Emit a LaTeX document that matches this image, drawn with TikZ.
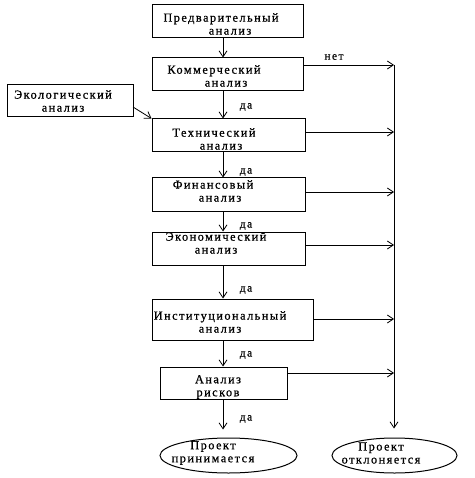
\documentclass[tikz,border=0pt]{standalone}
\usepackage{fontspec}
\setmainfont{Liberation Serif}[LetterSpace=12,FakeBold=0.7]
\usetikzlibrary{arrows.meta,shapes.geometric}
\begin{document}
\begin{tikzpicture}[x=1pt,y=-1pt,
  box/.style={draw,line width=1pt,inner sep=0pt},
  txt/.style={align=center,inner sep=0pt,font=\fontsize{12.3}{13}\selectfont},
  lab/.style={inner sep=0pt,font=\fontsize{11.5}{12}\selectfont},
  oval/.style={draw,line width=1pt,ellipse,inner sep=0pt},
  arr/.style={line width=0.8pt,-{Straight Barb[length=6pt,width=8pt]}}]
\useasboundingbox (0,0) rectangle (474,478);
% boxes
\node[box,minimum width=151pt,minimum height=33pt] (b1) at (228,21.5) {};
\node[box,minimum width=151pt,minimum height=33pt] (b2) at (228,74.5) {};
\node[box,minimum width=153pt,minimum height=33pt] (b3) at (228.5,135.5) {};
\node[box,minimum width=153pt,minimum height=33pt] (b4) at (228.5,194.5) {};
\node[box,minimum width=153pt,minimum height=33pt] (b5) at (228.5,248.5) {};
\node[box,minimum width=161pt,minimum height=41pt] (b6) at (232.5,319.5) {};
\node[box,minimum width=127pt,minimum height=32pt] (b7) at (223.5,383) {};
\node[box,minimum width=126pt,minimum height=32pt] (eco) at (70,101) {};
\node[oval,minimum width=137pt,minimum height=35pt] (acc) at (228.5,455.5) {};
\node[oval,minimum width=125pt,minimum height=35pt] (rej) at (394.5,455.5) {};
% texts
\node[txt] (t1) at (221,24) {Предварительный\\\hspace*{18pt}анализ};
\node[txt] (t2) at (214,76) {Коммерческий\\\hspace*{24pt}анализ};
\node[txt] (t3) at (214,139) {Технический\\\hspace*{14pt}анализ};
\node[txt] (t4) at (213,191) {Финансовый\\\hspace*{14pt}анализ};
\node[txt] (t5) at (216,243) {Экономический\\анализ};
\node[txt] (t6) at (220,322) {Институциональный\\анализ};
\node[txt] (t7) at (218,387) {Анализ\\рисков};
\node[txt] (t8) at (63,101) {Экологический\\анализ};
\node[txt] (t9) at (213,453) {Проект\\принимается};
\node[txt] (t10) at (381,453) {Проект\\отклоняется};
% labels
\node[lab] (n0) at (334,57) {нет};
\node[lab] (d1) at (246,107) {да};
\node[lab] (d2) at (246,172) {да};
\node[lab] (d3) at (246,226) {да};
\node[lab] (d4) at (246,290) {да};
\node[lab] (d5) at (246,355) {да};
\node[lab] (d6) at (246,419) {да};
% guide coordinates
\coordinate (vx) at (223,0);
\coordinate (c2) at (394,65);
\coordinate (c3) at (394,132);
\coordinate (c4) at (394,192);
\coordinate (c5) at (394,245);
\coordinate (c6) at (394,319);
\coordinate (c7) at (394,373);
\coordinate (e1) at (133,107);
% main flow
\draw[arr] (b1.south -| vx) -- (b2.north -| vx);
\draw[arr] (b2.south -| vx) -- (b3.north -| vx);
\draw[arr] (b3.south -| vx) -- (b4.north -| vx);
\draw[arr] (b4.south -| vx) -- (b5.north -| vx);
\draw[arr] (b5.south -| vx) -- (b6.north -| vx);
\draw[arr] (b6.south -| vx) -- (b7.north -| vx);
\draw[arr,shorten >=8pt] (b7.south -| vx) -- (acc.north -| vx);
% rejection line
\draw[arr] (b2.east |- c2) -- (c2);
\draw[arr] (b3.east |- c3) -- (c3);
\draw[arr] (b4.east |- c4) -- (c4);
\draw[arr] (b5.east |- c5) -- (c5);
\draw[arr] (b6.east |- c6) -- (c6);
\draw[arr] (b7.east |- c7) -- (c7);
\draw[arr,shorten >=9pt] (c2) -- (rej.north -| c2);
% ecology
\draw[arr] (e1) -- (b3.north west);
\end{tikzpicture}
\end{document}
